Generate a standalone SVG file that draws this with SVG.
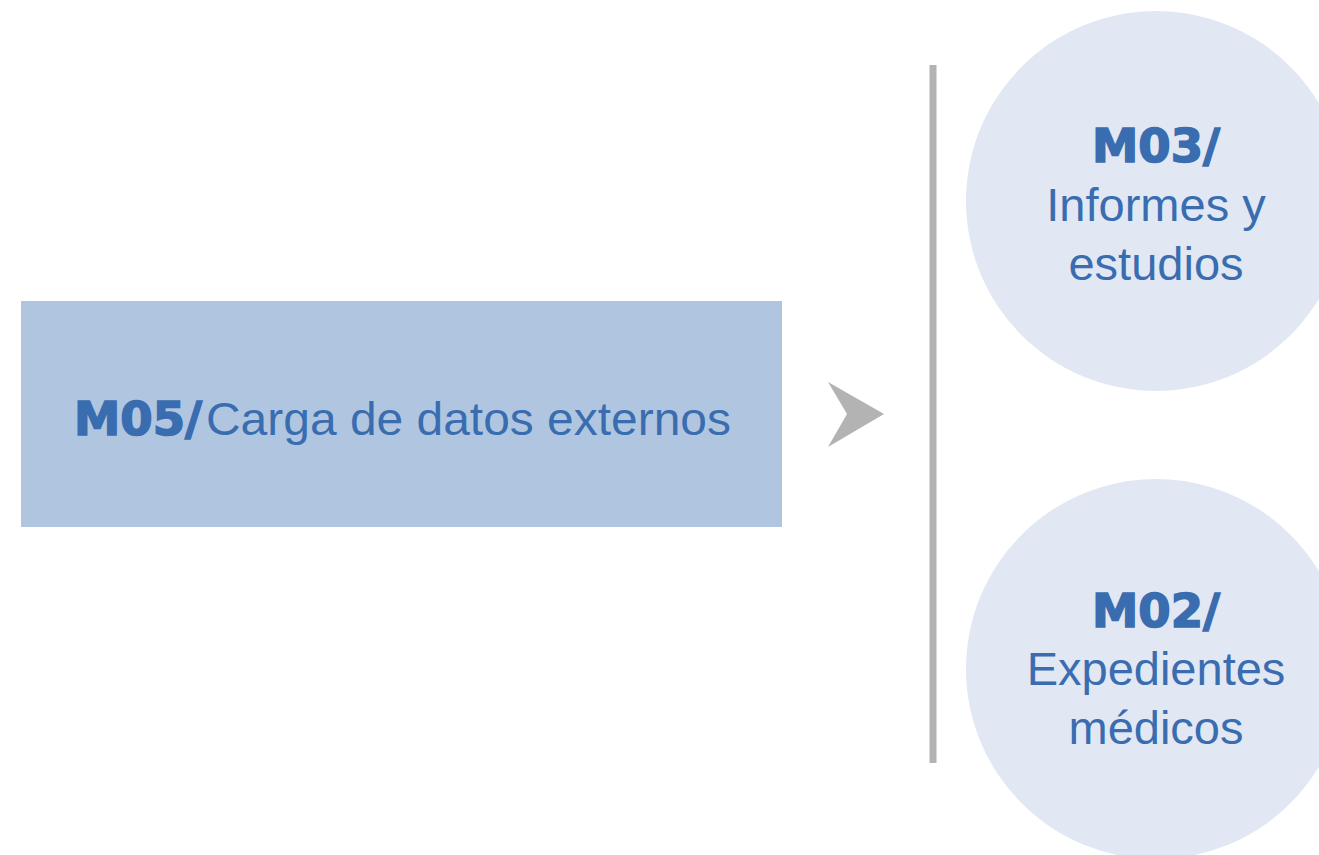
<svg xmlns="http://www.w3.org/2000/svg" width="1319" height="855" viewBox="0 0 1319 855">
<style>
.heavy{font-family:"DejaVu Sans","Liberation Sans",sans-serif;font-weight:bold;fill:#3a6db0;stroke:#3a6db0;stroke-width:1.6px;font-size:46px}
.light{font-family:"Liberation Sans",Arial,sans-serif;font-weight:normal;fill:#3a6db0;font-size:47px}
.circ{fill:#e1e8f3}
</style>
<rect width="1319" height="855" fill="#ffffff"/>
<g id="m05">
<rect x="21" y="301" width="761" height="226" fill="#b0c6e0"/>
<text y="435"><tspan class="heavy" x="74" textLength="128" lengthAdjust="spacingAndGlyphs">M05/</tspan><tspan class="light" x="206" textLength="525" lengthAdjust="spacingAndGlyphs">Carga de datos externos</tspan></text>
</g>
<g id="connectors">
<polygon points="828,382 884,414 828,447 847,414" fill="#b3b3b3"/>
<line x1="933" y1="65" x2="933" y2="763" stroke="#b3b3b3" stroke-width="7"/>
</g>
<g id="m03">
<circle class="circ" cx="1156" cy="201" r="190"/>
<text class="heavy" x="1156" y="162" text-anchor="middle" textLength="128" lengthAdjust="spacingAndGlyphs">M03/</text>
<text class="light" x="1156" y="221" text-anchor="middle">Informes y</text>
<text class="light" x="1156" y="280" text-anchor="middle">estudios</text>
</g>
<g id="m02">
<circle class="circ" cx="1156" cy="669" r="190"/>
<text class="heavy" x="1156" y="627" text-anchor="middle" textLength="128" lengthAdjust="spacingAndGlyphs">M02/</text>
<text class="light" x="1156" y="685" text-anchor="middle">Expedientes</text>
<text class="light" x="1156" y="744" text-anchor="middle">médicos</text>
</g>
</svg>
